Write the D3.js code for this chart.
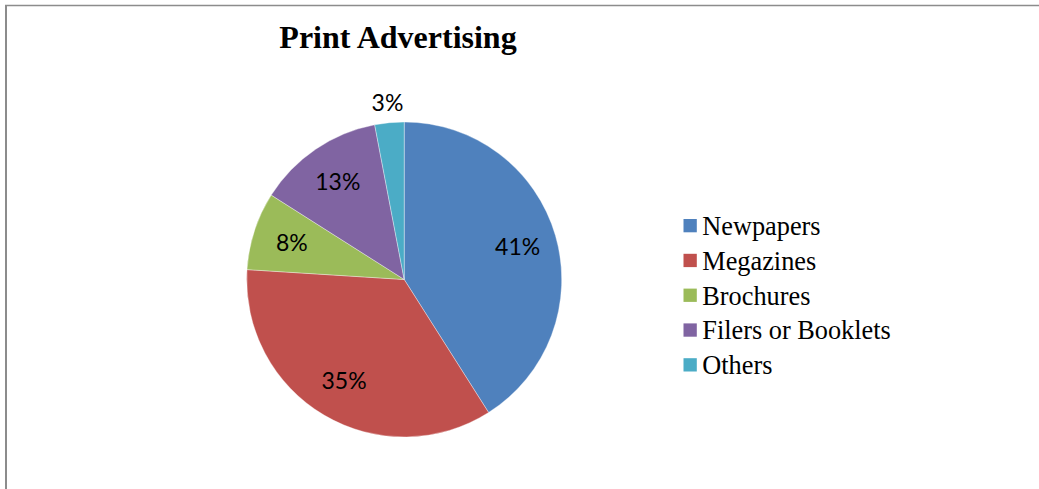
<!DOCTYPE html>
<html>
<head>
<meta charset="utf-8">
<script src="https://cdn.jsdelivr.net/npm/d3@7"></script>
<style>
  html, body { margin: 0; padding: 0; background: #fff; }
  svg { display: block; }
</style>
</head>
<body>
<svg id="chart" width="1039" height="489"></svg>
<script>
// Share of print advertising by medium (percent)
const categories = ["Newpapers", "Megazines", "Brochures", "Filers or Booklets", "Others"];
const shares = [41, 35, 8, 13, 3];
const colors = ["#4F81BD", "#C0504D", "#9BBB59", "#8064A2", "#4BACC6"];
const title = "Print Advertising";

const svg = d3.select("#chart");
const W = 1039, H = 489;

// Frame: top and left edges of the chart area
svg.append("line").attr("x1", 5).attr("y1", 5.5).attr("x2", W).attr("y2", 5.5)
  .attr("stroke", "#8c8c8c").attr("stroke-width", 1.5);
svg.append("line").attr("x1", 6).attr("y1", 5).attr("x2", 6).attr("y2", H)
  .attr("stroke", "#8c8c8c").attr("stroke-width", 2);

// Title
svg.append("text")
  .attr("x", 398).attr("y", 47.5)
  .attr("text-anchor", "middle")
  .attr("font-family", "'Liberation Serif', 'Times New Roman', serif")
  .attr("font-weight", "bold")
  .attr("font-size", 32)
  .attr("fill", "#000")
  .text(title);

// Pie
const cx = 404.2, cy = 279.5, r = 157.5;
const color = d3.scaleOrdinal().domain(categories).range(colors);
const data = categories.map((c, i) => ({ name: c, value: shares[i] }));
const pie = d3.pie().value(d => d.value).sort(null);
const arcs = pie(data);
const arc = d3.arc().innerRadius(0).outerRadius(r);
const inner = d3.arc().innerRadius(r * 0.75).outerRadius(r * 0.75);
const outer = d3.arc().innerRadius(r * 1.13).outerRadius(r * 1.13);

const g = svg.append("g").attr("transform", `translate(${cx},${cy})`);
g.selectAll("path.slice").data(arcs).join("path")
  .attr("class", "slice")
  .attr("d", arc)
  .attr("fill", d => color(d.data.name))
  .attr("stroke", "#ffffff")
  .attr("stroke-opacity", 0.6)
  .attr("stroke-width", 0.6);

g.selectAll("text.pct").data(arcs).join("text")
  .attr("class", "pct")
  .attr("transform", d => {
    const p = d.data.value < 5 ? outer.centroid(d) : inner.centroid(d);
    return `translate(${p[0]},${p[1]})`;
  })
  .attr("text-anchor", "middle")
  .attr("dy", "0.36em")
  .attr("font-family", "Lato, 'Open Sans', sans-serif")
  .attr("font-size", 23)
  .attr("fill", "#000")
  .text(d => d.data.value + "%");

// Legend
const lx = 683.5, ly = 219, step = 34.8, box = 13.3;
const leg = svg.append("g");
const items = leg.selectAll("g").data(categories).join("g")
  .attr("transform", (d, i) => `translate(${lx},${ly + i * step})`);
items.append("rect")
  .attr("width", box).attr("height", box)
  .attr("fill", d => color(d));
items.append("text")
  .attr("x", 18.8).attr("y", 16)
  .attr("font-family", "'Liberation Serif', 'Times New Roman', serif")
  .attr("font-size", 26.3)
  .attr("fill", "#000")
  .text(d => d);
</script>
</body>
</html>
